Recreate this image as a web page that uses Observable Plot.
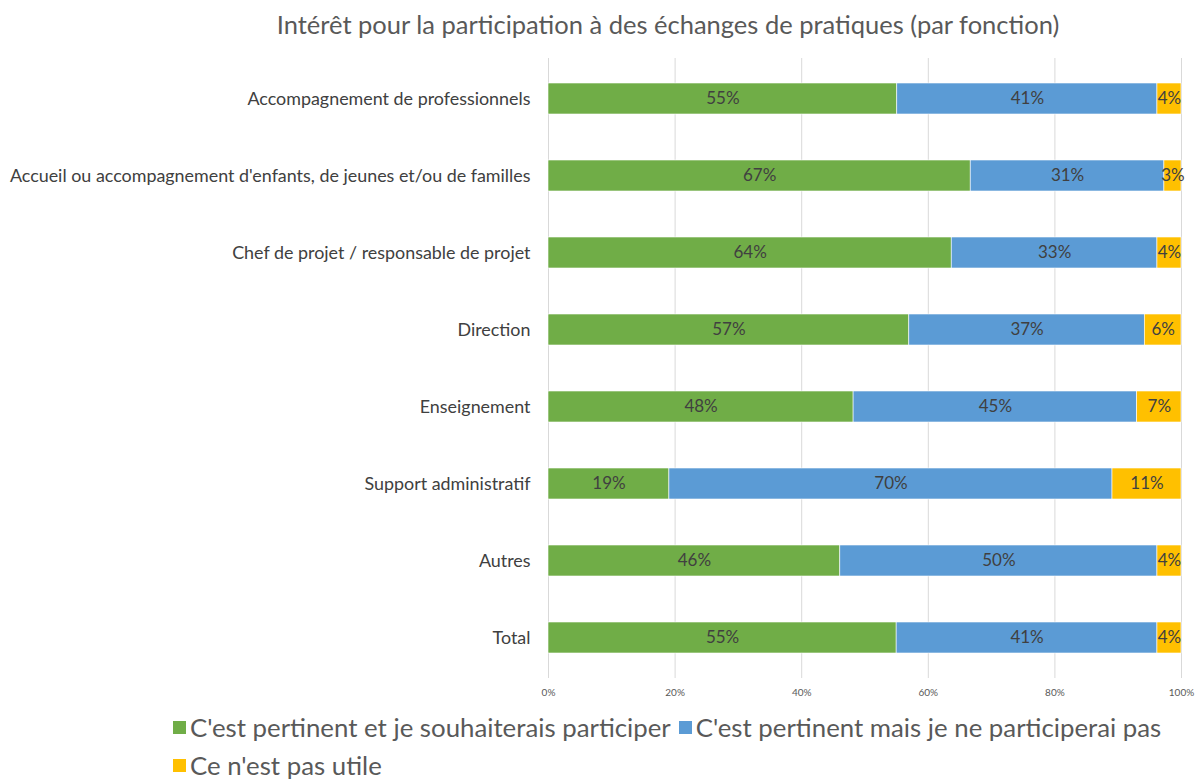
<!DOCTYPE html>
<html>
<head>
<meta charset="utf-8">
<script src="https://cdn.jsdelivr.net/npm/d3@7"></script>
<script src="https://cdn.jsdelivr.net/npm/@observablehq/plot@0.6"></script>
<style>
  body { margin: 0; background: #fff; font-family: Lato, "Open Sans", sans-serif; }
  #title { height: 50px; line-height: 48px; text-align: center; font-size: 25.5px; color: #595959; padding-left: 140px; box-sizing: border-box; width: 1196px; }
  #legend { padding-left: 173px; width: 1010px; display: flex; flex-wrap: wrap; font-size: 25.8px; color: #595959; row-gap: 8px; margin-top: 2px; }
  .item { display: flex; align-items: center; margin-right: 8px; white-space: nowrap; }
  .sw { width: 13px; height: 13px; margin-right: 4px; }
</style>
</head>
<body>
<div id="title">Intérêt pour la participation à des échanges de pratiques (par fonction)</div>
<div id="chart"></div>
<div id="legend"></div>
<script>
const categories = [
  "Accompagnement de professionnels",
  "Accueil ou accompagnement d'enfants, de jeunes et/ou de familles",
  "Chef de projet / responsable de projet",
  "Direction",
  "Enseignement",
  "Support administratif",
  "Autres",
  "Total"
];
const series = [
  "C'est pertinent et je souhaiterais participer",
  "C'est pertinent mais je ne participerai pas",
  "Ce n'est pas utile"
];
const colors = ["#70AD47", "#5B9BD5", "#FFC000"];
const pertinentParticiper = [55.1, 66.7, 63.7, 57.0, 48.2, 19.1, 46.1, 55.0];
const pertinentPasParticiper = [41.1, 30.6, 32.5, 37.2, 44.8, 70.0, 50.1, 41.2];
const pasUtile = [3.8, 2.7, 3.8, 5.8, 7.0, 10.9, 3.8, 3.8];
const xTicks = [0, 20, 40, 60, 80, 100];

const seriesValues = [pertinentParticiper, pertinentPasParticiper, pasUtile];
const data = [];
categories.forEach((c, i) => {
  series.forEach((s, j) => {
    data.push({category: c, series: s, value: seriesValues[j][i]});
  });
});

const chart = Plot.plot({
  width: 1196,
  height: 660,
  marginLeft: 548,
  marginRight: 15,
  marginTop: 8,
  marginBottom: 32,
  style: {fontFamily: "Lato, 'Open Sans', sans-serif", background: "#fff"},
  x: {domain: [0, 100], ticks: xTicks, tickFormat: d => d + "%", label: null, grid: false},
  y: {domain: categories, label: null, paddingInner: 0.6, paddingOuter: 0.3},
  color: {domain: series, range: colors},
  marks: [
    Plot.ruleX(xTicks, {stroke: "#d9d9d9", strokeWidth: 1, y1: null, y2: null}),
    Plot.barX(data, Plot.stackX({x: "value", y: "category", fill: "series", order: null, stroke: "#fff", strokeWidth: 0.6})),
    Plot.text(data, Plot.stackX({x: "value", y: "category", z: "series", text: d => Math.round(d.value) + "%", fill: "#404040", fontSize: 17, order: null})),
    Plot.axisX({ticks: xTicks, tickFormat: d => d + "%", tickSize: 0, tickPadding: 10, fontSize: 10, color: "#595959", label: null}),
    Plot.axisY({tickSize: 0, tickPadding: 18, fontSize: 17.9, color: "#404040", label: null})
  ]
});
document.getElementById("chart").appendChild(chart);

const legend = document.getElementById("legend");
series.forEach((s, j) => {
  const it = document.createElement("div");
  it.className = "item";
  const sw = document.createElement("span");
  sw.className = "sw";
  sw.style.background = colors[j];
  it.appendChild(sw);
  it.appendChild(document.createTextNode(s));
  legend.appendChild(it);
});
</script>
</body>
</html>
